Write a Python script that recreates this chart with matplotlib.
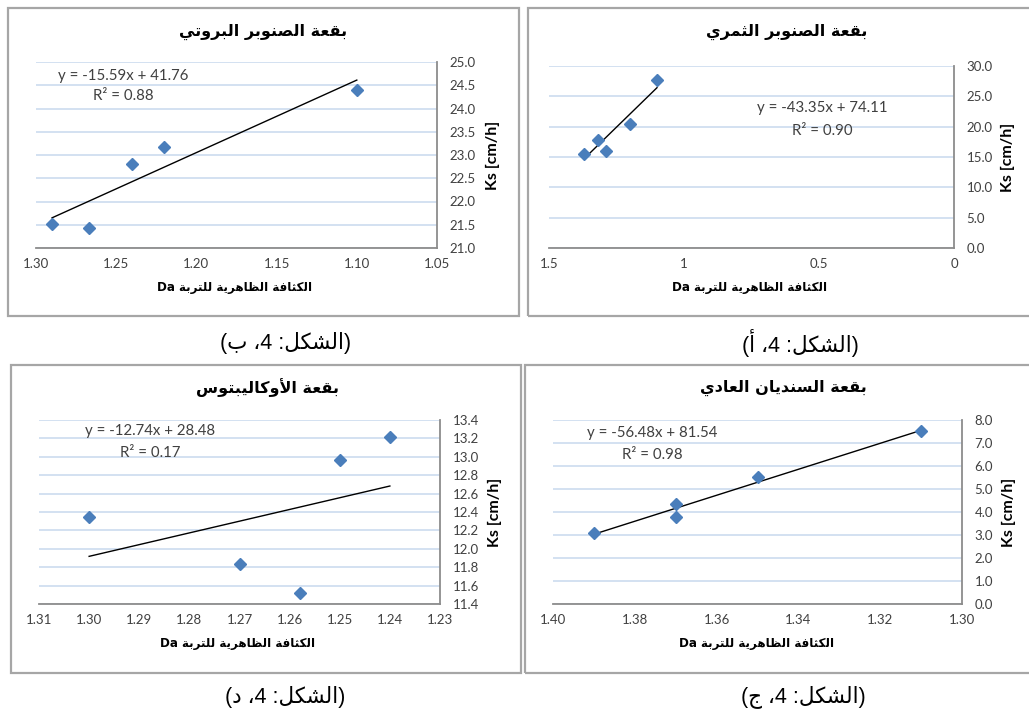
import matplotlib
matplotlib.use('Agg')
import matplotlib.pyplot as plt
from matplotlib.patches import Rectangle
from matplotlib.ticker import FixedLocator, FixedFormatter
import numpy as np

W, H = 1029, 715

# ---------------- data ----------------
# Panel (أ) top right
da_a = [1.37, 1.32, 1.29, 1.20, 1.10]
ks_a = [15.5, 17.8, 16.0, 20.5, 27.7]
fit_a = (-43.35, 74.11)
r2_a = 0.90
# Panel (ب) top left
da_b = [1.29, 1.267, 1.24, 1.22, 1.10]
ks_b = [21.51, 21.44, 22.80, 23.18, 24.39]
fit_b = (-15.59, 41.76)
r2_b = 0.88
# Panel (ج) bottom right
da_c = [1.39, 1.37, 1.37, 1.35, 1.31]
ks_c = [3.07, 4.36, 3.77, 5.51, 7.52]
fit_c = (-56.48, 81.54)
r2_c = 0.98
# Panel (د) bottom left
da_d = [1.30, 1.27, 1.258, 1.25, 1.24]
ks_d = [12.35, 11.84, 11.52, 12.96, 13.21]
fit_d = (-12.74, 28.48)
r2_d = 0.17

title_a = "بقعة الصنوبر الثمري"
title_b = "بقعة الصنوبر البروتي"
title_c = "بقعة السنديان العادي"
title_d = "بقعة الأوكاليبتوس"
xlabel_txt = "الكثافة الظاهرية للتربة Da"
ylabel_txt = "Ks [cm/h]"
cap_a = "(الشكل: 4، أ)"
cap_b = "(الشكل: 4، ب)"
cap_c = "(الشكل: 4، ج)"
cap_d = "(الشكل: 4، د)"

xt_a = [1.5, 1.0, 0.5, 0.0]; xtl_a = ["1.5", "1", "0.5", "0"]
yt_a = [0, 5, 10, 15, 20, 25, 30]
xt_b = [1.30, 1.25, 1.20, 1.15, 1.10, 1.05]
yt_b = [21.0, 21.5, 22.0, 22.5, 23.0, 23.5, 24.0, 24.5, 25.0]
xt_c = [1.40, 1.38, 1.36, 1.34, 1.32, 1.30]
yt_c = [0, 1, 2, 3, 4, 5, 6, 7, 8]
xt_d = [1.31, 1.30, 1.29, 1.28, 1.27, 1.26, 1.25, 1.24, 1.23]
yt_d = [11.4, 11.6, 11.8, 12.0, 12.2, 12.4, 12.6, 12.8, 13.0, 13.2, 13.4]

# ---------------- minimal Arabic shaping + bidi ----------------
FORMS = {
    'ا': (0xFE8D, 0xFE8E, None, None), 'أ': (0xFE83, 0xFE84, None, None),
    'ب': (0xFE8F, 0xFE90, 0xFE91, 0xFE92), 'ة': (0xFE93, 0xFE94, None, None),
    'ت': (0xFE95, 0xFE96, 0xFE97, 0xFE98), 'ث': (0xFE99, 0xFE9A, 0xFE9B, 0xFE9C),
    'ج': (0xFE9D, 0xFE9E, 0xFE9F, 0xFEA0), 'د': (0xFEA9, 0xFEAA, None, None),
    'ر': (0xFEAD, 0xFEAE, None, None), 'س': (0xFEB1, 0xFEB2, 0xFEB3, 0xFEB4),
    'ش': (0xFEB5, 0xFEB6, 0xFEB7, 0xFEB8), 'ص': (0xFEB9, 0xFEBA, 0xFEBB, 0xFEBC),
    'ظ': (0xFEC5, 0xFEC6, 0xFEC7, 0xFEC8), 'ع': (0xFEC9, 0xFECA, 0xFECB, 0xFECC),
    'ف': (0xFED1, 0xFED2, 0xFED3, 0xFED4), 'ق': (0xFED5, 0xFED6, 0xFED7, 0xFED8),
    'ك': (0xFED9, 0xFEDA, 0xFEDB, 0xFEDC), 'ل': (0xFEDD, 0xFEDE, 0xFEDF, 0xFEE0),
    'م': (0xFEE1, 0xFEE2, 0xFEE3, 0xFEE4), 'ن': (0xFEE5, 0xFEE6, 0xFEE7, 0xFEE8),
    'ه': (0xFEE9, 0xFEEA, 0xFEEB, 0xFEEC), 'و': (0xFEED, 0xFEEE, None, None),
    'ي': (0xFEF1, 0xFEF2, 0xFEF3, 0xFEF4),
    'LA': (0xFEFB, 0xFEFC, None, None), 'LAH': (0xFEF7, 0xFEF8, None, None),
}


def shape(text):
    toks = []
    i = 0
    while i < len(text):
        c = text[i]
        if c == 'ل' and i + 1 < len(text) and text[i + 1] in ('ا', 'أ'):
            toks.append('LA' if text[i + 1] == 'ا' else 'LAH')
            i += 2
        else:
            toks.append(c)
            i += 1
    out = []
    for k, t in enumerate(toks):
        if t not in FORMS:
            out.append(t)
            continue
        f = FORMS[t]
        prev = toks[k - 1] if k > 0 else None
        nxt = toks[k + 1] if k + 1 < len(toks) else None
        jp = prev in FORMS and FORMS[prev][2] is not None
        jn = nxt in FORMS and f[2] is not None
        if jp and jn:
            out.append(chr(f[3]))
        elif jp:
            out.append(chr(f[1]))
        elif jn:
            out.append(chr(f[2]))
        else:
            out.append(chr(f[0]))
    return ''.join(out)


def is_ltr(c):
    return c.isascii() and c.isalnum() or c == '.'


MIRROR = {'(': ')', ')': '(', '[': ']', ']': '['}


def rtl(text):
    s = shape(text)
    runs = []
    for c in s:
        l = is_ltr(c)
        if runs and runs[-1][0] == l:
            runs[-1][1].append(c)
        else:
            runs.append([l, [c]])
    vis = []
    for l, chars in reversed(runs):
        if l:
            vis.append(''.join(chars))
        else:
            vis.append(''.join(MIRROR.get(c, c) for c in reversed(chars)))
    return ''.join(vis)


# ---------------- figure ----------------
fig = plt.figure(figsize=(W / 100, H / 100), dpi=100)
fig.patch.set_facecolor('white')

AR = ['DejaVu Sans']
NUM = ['Lato', 'DejaVu Sans']
BLUE = '#4a7ebb'
GRID = '#c8d9ee'
SPINE = '#8c8c8c'
TXT = '#404040'


def fx(px):
    return px / W


def fy(py):
    return 1 - py / H


def box(x0, y0, x1, y1):
    fig.add_artist(Rectangle((fx(x0), fy(y1)), fx(x1) - fx(x0), fy(y0) - fy(y1),
                             transform=fig.transFigure, fill=False,
                             edgecolor='#a6a6a6', lw=1.6))


def panel(rect, da, ks, fit, r2, xlim, xt, xtl, ylim, yt, yfmt,
          title, title_xy, eq_xy, r2_xy, xl_xy, yl_xy, cap, cap_xy):
    x0, y0, x1, y1 = rect
    ax = fig.add_axes([fx(x0), fy(y1), fx(x1) - fx(x0), fy(y0) - fy(y1)])
    ax.set_xlim(*xlim)
    ax.set_ylim(*ylim)
    for s in ('top', 'left'):
        ax.spines[s].set_visible(False)
    for s in ('bottom', 'right'):
        ax.spines[s].set_color(SPINE)
        ax.spines[s].set_linewidth(1.3)
    ax.yaxis.tick_right()
    ax.xaxis.set_major_locator(FixedLocator(xt))
    ax.xaxis.set_major_formatter(FixedFormatter(xtl))
    ax.yaxis.set_major_locator(FixedLocator(yt))
    ax.yaxis.set_major_formatter(FixedFormatter([yfmt % v for v in yt]))
    ax.tick_params(length=0, labelsize=9.5, colors=TXT)
    ax.tick_params(axis='y', pad=9)
    ax.tick_params(axis='x', pad=7)
    for lab in ax.get_xticklabels() + ax.get_yticklabels():
        lab.set_family(NUM)
    ax.grid(axis='y', color=GRID, lw=1.1)
    ax.set_axisbelow(True)
    # trendline
    xs = np.array([min(da), max(da)])
    ax.plot(xs, fit[0] * xs + fit[1], color='black', lw=1.0, zorder=3)
    ax.plot(da, ks, 'D', color=BLUE, ms=6.2, mec=BLUE, zorder=4, clip_on=False)
    sign = '+' if fit[1] >= 0 else '-'
    ax.text(*eq_xy, f"y = {fit[0]:.2f}x {sign} {abs(fit[1]):.2f}", transform=ax.transAxes,
            ha='center', va='center', fontsize=10.8, family=NUM, color=TXT)
    ax.text(*r2_xy, f"R² = {r2:.2f}", transform=ax.transAxes,
            ha='center', va='center', fontsize=10.8, family=NUM, color=TXT)
    fig.text(fx(title_xy[0]), fy(title_xy[1]), rtl(title), ha='center', va='center',
             fontsize=11.5, fontweight='bold', family=AR, color='black')
    fig.text(fx(xl_xy[0]), fy(xl_xy[1]), rtl(xlabel_txt), ha='center', va='center',
             fontsize=8.6, fontweight='bold', family=AR, color='black')
    fig.text(fx(yl_xy[0]), fy(yl_xy[1]), ylabel_txt, ha='center', va='center',
             rotation=90, fontsize=11.5, fontweight='bold', family=NUM, color='black')
    fig.text(fx(cap_xy[0]), fy(cap_xy[1]), rtl(cap), ha='center', va='center',
             fontsize=15.5, family=['Liberation Sans', 'DejaVu Sans'], color='black')
    return ax


# borders of the four chart areas
box(8, 8, 519, 316)
box(528, 8, 1035, 316)
box(11, 365, 521, 673)
box(525, 365, 1035, 673)

# top-left (ب)
panel((36, 62, 437, 248), da_b, ks_b, fit_b, r2_b, (1.30, 1.05), xt_b,
      ["%.2f" % v for v in xt_b], (21.0, 25.0), yt_b, "%.1f",
      title_b, (263, 32), (0.217, 0.925), (0.217, 0.817), (235, 287), (493, 155),
      cap_b, (286, 343))
# top-right (أ)
panel((549, 66, 954, 248), da_a, ks_a, fit_a, r2_a, (1.5, 0.0), xt_a, xtl_a,
      (0, 30), yt_a, "%.1f",
      title_a, (787, 32), (0.674, 0.769), (0.674, 0.643), (750, 287), (1008, 157),
      cap_a, (800, 343))
# bottom-left (د)
panel((39, 420, 440, 604), da_d, ks_d, fit_d, r2_d, (1.31, 1.23), xt_d,
      ["%.2f" % v for v in xt_d], (11.4, 13.4), yt_d, "%.1f",
      title_d, (267, 388), (0.277, 0.94), (0.277, 0.82), (238, 643), (495, 512),
      cap_d, (285, 697))
# bottom-right (ج)
panel((553, 420, 962, 604), da_c, ks_c, fit_c, r2_c, (1.40, 1.30), xt_c,
      ["%.2f" % v for v in xt_c], (0, 8), yt_c, "%.1f",
      title_c, (783, 388), (0.242, 0.929), (0.242, 0.81), (757, 643), (1009, 512),
      cap_c, (803, 697))

fig.savefig('out.png', dpi=100, facecolor='white')
